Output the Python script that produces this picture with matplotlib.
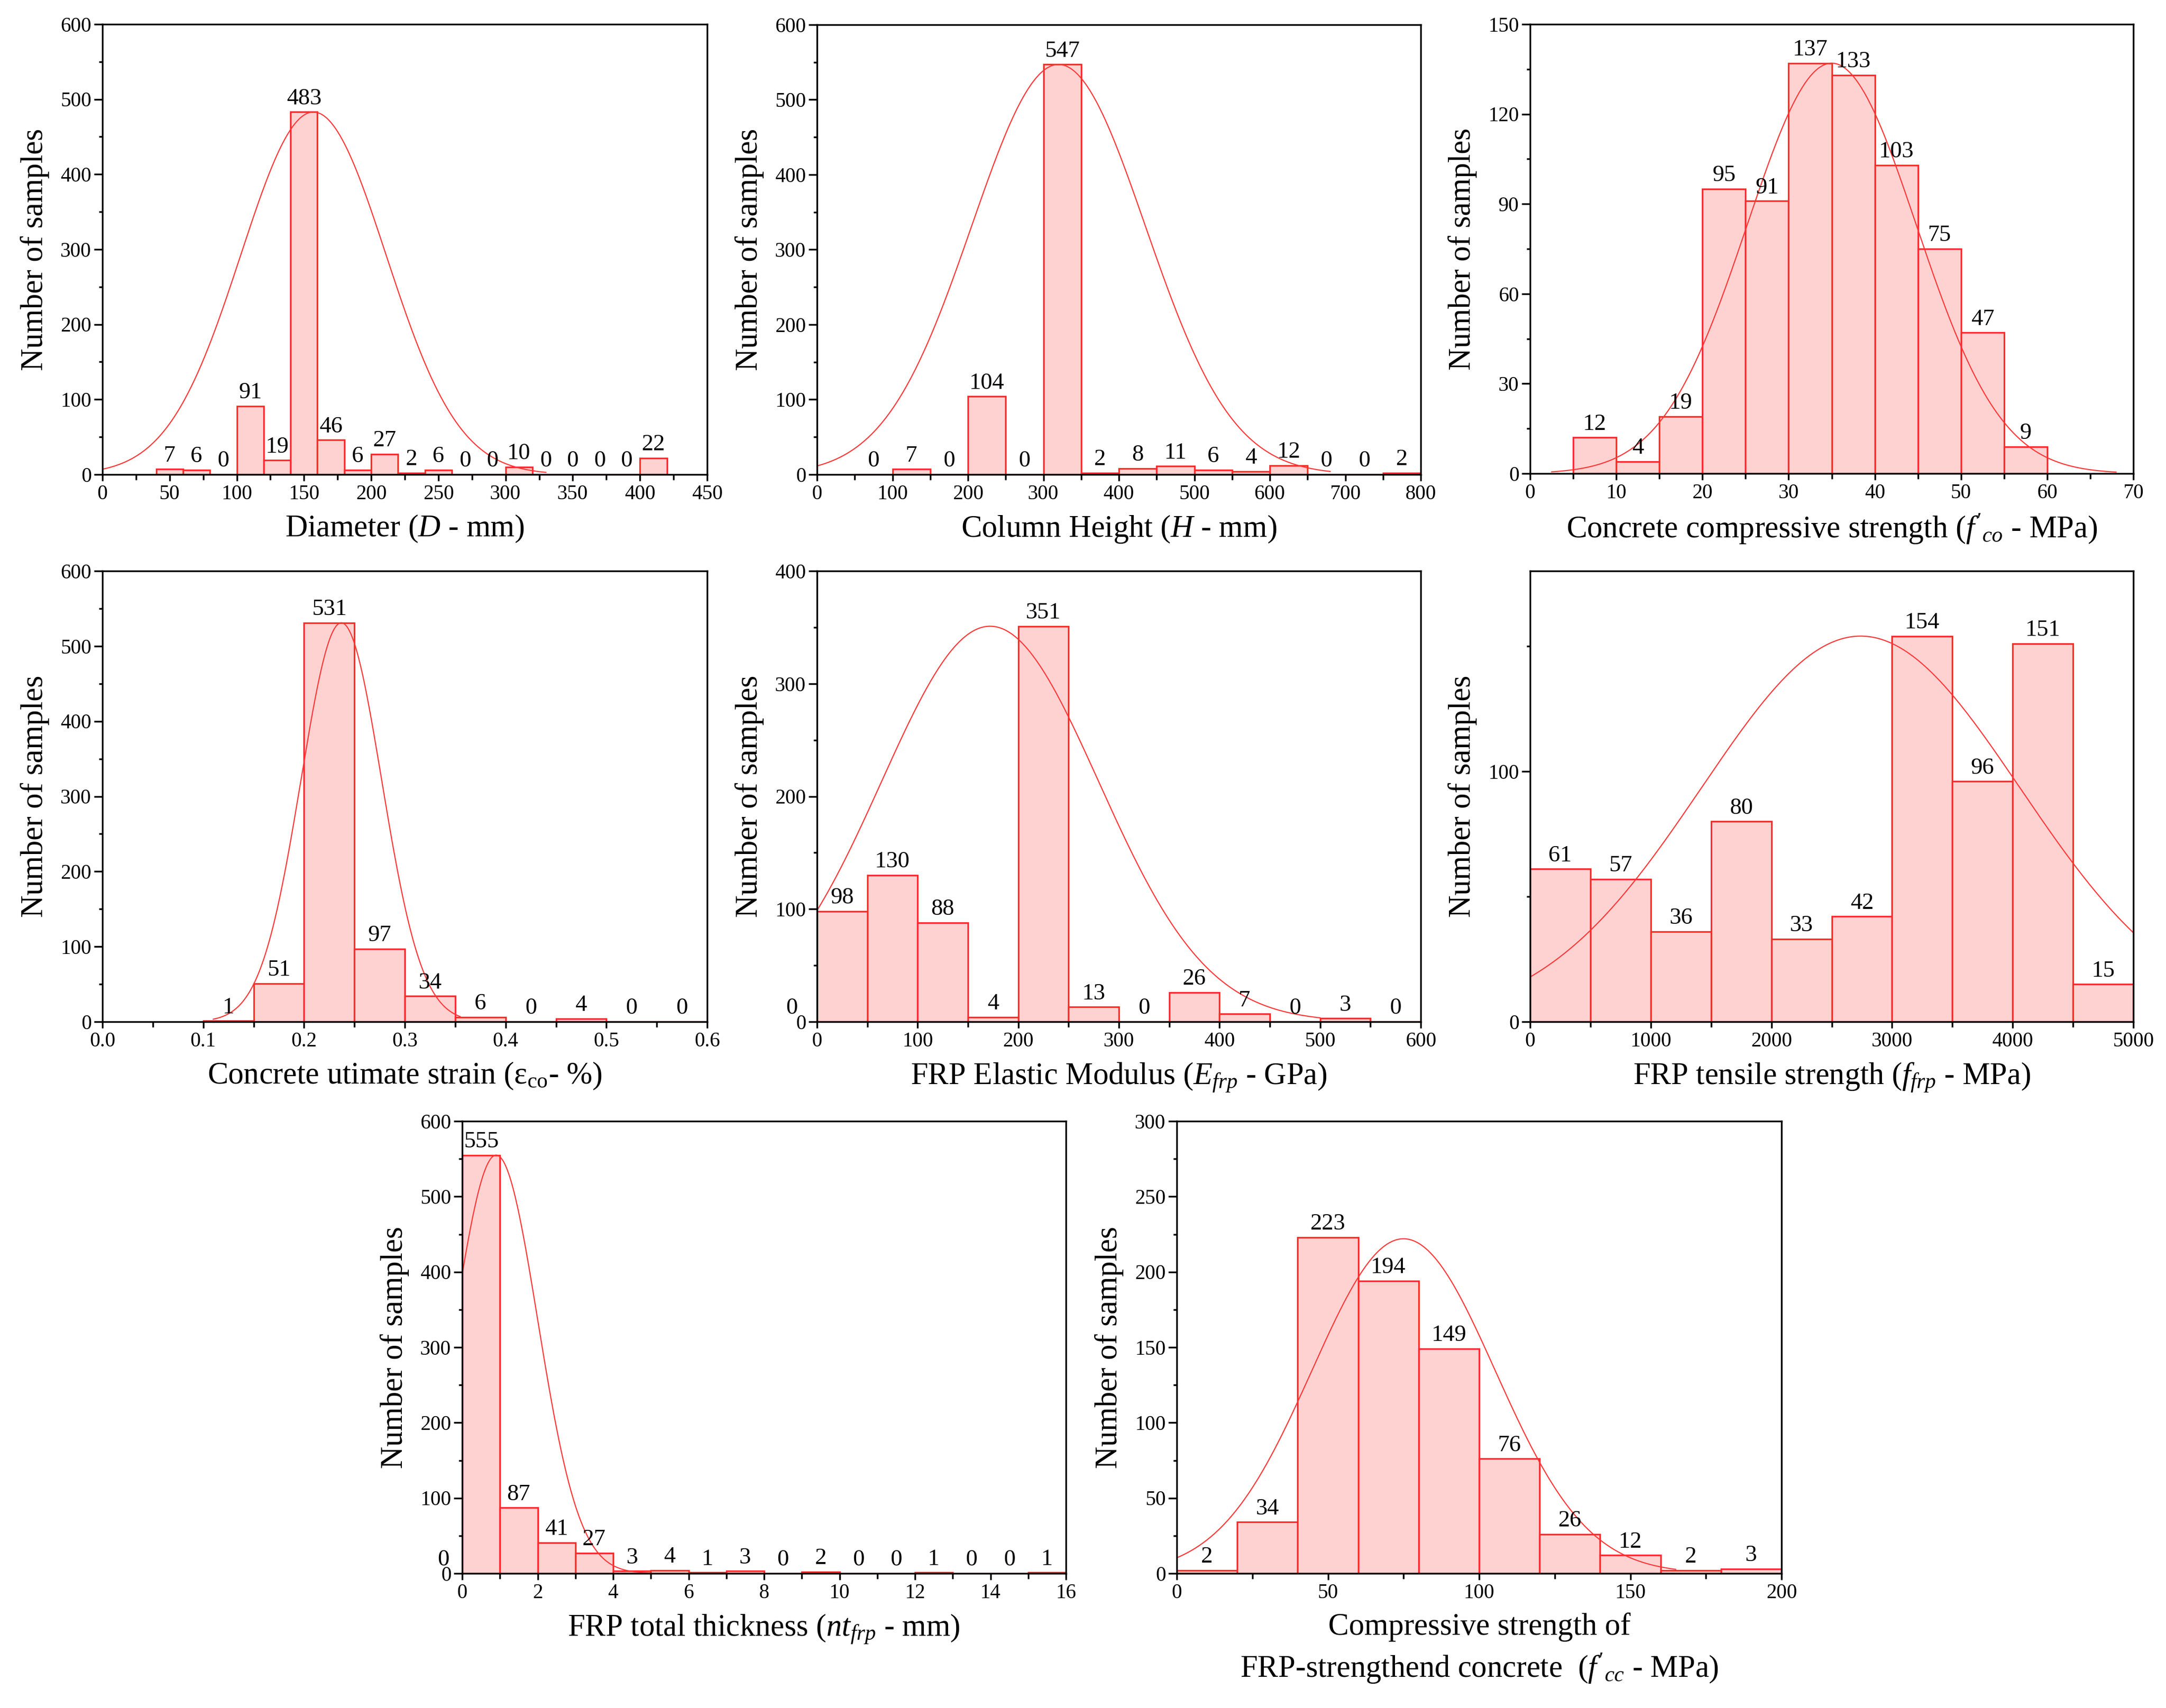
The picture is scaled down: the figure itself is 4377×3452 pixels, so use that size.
import numpy as np
import matplotlib
matplotlib.use("Agg")
import matplotlib.pyplot as plt
from matplotlib.ticker import MultipleLocator

plt.rcParams['font.family'] = ['Liberation Serif', 'DejaVu Serif']
plt.rcParams['mathtext.fontset'] = 'custom'
plt.rcParams['mathtext.rm'] = 'Liberation Serif'
plt.rcParams['mathtext.it'] = 'Liberation Serif:italic'

# ---------------- data ----------------
# Diameter (mm)
D_start, D_width = 40, 20
D_counts = [7, 6, 0, 91, 19, 483, 46, 6, 27, 2, 6, 0, 0, 10, 0, 0, 0, 0, 22]
# Column height (mm)
H_start, H_width = 50, 50
H_counts = [0, 7, 0, 104, 0, 547, 2, 8, 11, 6, 4, 12, 0, 0, 2]
# Concrete compressive strength f'co (MPa)
fco_start, fco_width = 5, 5
fco_counts = [12, 4, 19, 95, 91, 137, 133, 103, 75, 47, 9]
# Concrete ultimate strain (%)
eco_start, eco_width = 0.10, 0.05
eco_counts = [1, 51, 531, 97, 34, 6, 0, 4, 0, 0]
# FRP elastic modulus (GPa)
E_start, E_width = -50, 50
E_counts = [0, 98, 130, 88, 4, 351, 13, 0, 26, 7, 0, 3, 0]
# FRP tensile strength (MPa)
ffrp_start, ffrp_width = 0, 500
ffrp_counts = [61, 57, 36, 80, 33, 42, 154, 96, 151, 15]
# FRP total thickness (mm)
t_start, t_width = -1, 1
t_counts = [0, 555, 87, 41, 27, 3, 4, 1, 3, 0, 2, 0, 0, 1, 0, 0, 1]
# Compressive strength of FRP-strengthened concrete f'cc (MPa)
fcc_start, fcc_width = 0, 20
fcc_counts = [2, 34, 223, 194, 149, 76, 26, 12, 2, 3]

# fitted normal curves: mean, std, peak height, x-range
curve_mean = [157, 320, 35, 0.237, 172, 2740, 0.9, 75]
curve_std = [54, 115, 9.8, 0.040, 108, 1320, 1.1, 30.3]
curve_peak = [483, 547, 137, 531, 351, 154, 555, 222]
curve_xmin = [0, 0, 2.5, 0.11, 0, 0, 0, 0]
curve_xmax = [330, 680, 68, 0.355, 500, 5000, 5, 165]

xlabels = [
    r"Diameter ($D$ - mm)",
    r"Column Height ($H$ - mm)",
    r"Concrete compressive strength ($f'_{co}$ - MPa)",
    r"Concrete utimate strain (ε$_{\mathrm{co}}$- %)",
    r"FRP Elastic Modulus ($E_{frp}$ - GPa)",
    r"FRP tensile strength ($f_{frp}$ - MPa)",
    r"FRP total thickness ($nt_{frp}$ - mm)",
    "Compressive strength of\n" + r"FRP-strengthend concrete  ($f'_{cc}$ - MPa)",
]
xlims = [(0, 450), (0, 800), (0, 70), (0, 0.6), (0, 600), (0, 5000), (0, 16), (0, 200)]
ylims = [(0, 600), (0, 600), (0, 150), (0, 600), (0, 400), (0, 180), (0, 600), (0, 300)]
xmajor = [50, 100, 10, 0.1, 100, 1000, 2, 50]
xminor = [25, 50, 5, 0.05, 50, 500, 1, 25]
ymajor = [100, 100, 30, 100, 100, 100, 100, 50]
yminor = [50, 50, 15, 50, 50, 50, 50, 25]
xfmt = ["%d", "%d", "%d", "%.1f", "%d", "%d", "%d", "%d"]

datasets = [
    (D_start, D_width, D_counts),
    (H_start, H_width, H_counts),
    (fco_start, fco_width, fco_counts),
    (eco_start, eco_width, eco_counts),
    (E_start, E_width, E_counts),
    (ffrp_start, ffrp_width, ffrp_counts),
    (t_start, t_width, t_counts),
    (fcc_start, fcc_width, fcc_counts),
]

# axes boxes in pixels: left, top, right, bottom
W, H = 4377, 3452
boxes = [
    (207, 49, 1429, 959),
    (1651, 50, 2871, 959),
    (3092, 49, 4311, 957),
    (207, 1154, 1429, 2065),
    (1651, 1154, 2871, 2065),
    (3092, 1154, 4311, 2065),
    (934, 2266, 2154, 3180),
    (2378, 2266, 3600, 3180),
]

FILL = '#FFD2D2'
EDGE = '#FF2A2A'
CURVE = '#FF3535'

fig = plt.figure(figsize=(W / 100, H / 100), dpi=100)

for i, (l, t, r, b) in enumerate(boxes):
    ax = fig.add_axes([l / W, 1 - b / H, (r - l) / W, (b - t) / H])
    start, width, counts = datasets[i]
    counts = np.array(counts)
    lefts = start + width * np.arange(len(counts))
    centers = lefts + width / 2
    ax.bar(lefts, counts, width=width, align='edge', color=FILL,
           edgecolor=EDGE, linewidth=2.4, zorder=2)
    for cx, c in zip(centers, counts):
        ax.annotate(str(c), (cx, c), xytext=(0, 4), textcoords='offset points',
                    ha='center', va='bottom', fontsize=34, zorder=5,
                    annotation_clip=False)
    xs = np.linspace(curve_xmin[i], curve_xmax[i], 400)
    ys = curve_peak[i] * np.exp(-(xs - curve_mean[i]) ** 2 / (2 * curve_std[i] ** 2))
    ax.plot(xs, ys, color=CURVE, lw=1.6, zorder=3)

    ax.set_xlim(*xlims[i])
    ax.set_ylim(*ylims[i])
    ax.xaxis.set_major_locator(MultipleLocator(xmajor[i]))
    ax.xaxis.set_minor_locator(MultipleLocator(xminor[i]))
    ax.yaxis.set_major_locator(MultipleLocator(ymajor[i]))
    ax.yaxis.set_minor_locator(MultipleLocator(yminor[i]))
    ax.xaxis.set_major_formatter(matplotlib.ticker.FormatStrFormatter(xfmt[i]))
    ax.tick_params(axis='x', which='major', direction='out', length=9, width=2.5,
                   labelsize=30, pad=6, top=False)
    ax.tick_params(axis='x', which='minor', direction='out', length=8, width=2.5, top=False)
    ax.tick_params(axis='y', which='major', direction='out', length=12, width=2.5,
                   labelsize=30, pad=4, right=False)
    ax.tick_params(axis='y', which='minor', direction='out', length=5, width=2.5, right=False)
    for s in ax.spines.values():
        s.set_linewidth(2.5)
        s.set_zorder(4)
    ax.set_xlabel(xlabels[i], fontsize=45, labelpad=14, linespacing=1.4)
    ax.set_ylabel("Number of samples", fontsize=45, labelpad=16)

fig.savefig("out.png", dpi=100, facecolor='white')
